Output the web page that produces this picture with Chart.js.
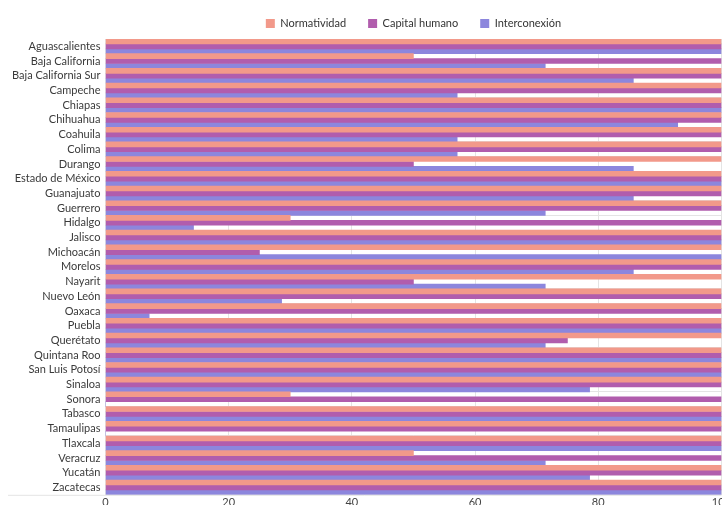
<!DOCTYPE html>
<html>
<head>
<meta charset="utf-8">
<script src="https://cdn.jsdelivr.net/npm/chart.js@4"></script>
<style>
    html, body { margin: 0; padding: 0; overflow: hidden; background: #fff; }
    #wrap { width: 732px; height: 510px; position: relative; }
</style>
</head>
<body>
<div id="wrap"><canvas id="indicadores-chart"></canvas></div>
<script>
// Estados
const estados = [
    'Aguascalientes', 'Baja California', 'Baja California Sur', 'Campeche', 'Chiapas',
    'Chihuahua', 'Coahuila', 'Colima', 'Durango', 'Estado de México', 'Guanajuato',
    'Guerrero', 'Hidalgo', 'Jalisco', 'Michoacán', 'Morelos', 'Nayarit', 'Nuevo León',
    'Oaxaca', 'Puebla', 'Querétato', 'Quintana Roo', 'San Luis Potosí', 'Sinaloa',
    'Sonora', 'Tabasco', 'Tamaulipas', 'Tlaxcala', 'Veracruz', 'Yucatán', 'Zacatecas'
];

const normatividad = [
    100, 50, 100, 100, 100, 100, 100, 100, 100, 100, 100,
    100, 30, 100, 100, 100, 100, 100, 100, 100, 100, 100,
    100, 100, 30, 100, 100, 100, 50, 100, 100
];

const capitalHumano = [
    100, 100, 100, 100, 100, 100, 100, 100, 50, 100, 100,
    100, 100, 100, 25, 100, 50, 100, 100, 100, 75, 100,
    100, 100, 100, 100, 100, 100, 100, 100, 100
];

const interconexion = [
    100, 71.4, 85.7, 57.1, 100, 92.9, 57.1, 57.1, 85.7, 100, 85.7,
    71.4, 14.3, 100, 100, 85.7, 71.4, 28.6, 7.1, 100, 71.4, 100,
    100, 78.6, 0, 100, 0, 100, 71.4, 78.6, 100
];

const xTicks = [0, 20, 40, 60, 80, 100];

const FONT = 'Lato, "Open Sans", sans-serif';
const GRID = '#e4e4e4';

// bottom rule that runs under the state labels too
const baseLine = {
    id: 'baseLine',
    afterDraw(chart) {
        const { ctx, chartArea } = chart;
        ctx.save();
        ctx.strokeStyle = GRID;
        ctx.lineWidth = 1;
        ctx.beginPath();
        ctx.moveTo(8, chartArea.bottom + 0.5);
        ctx.lineTo(chartArea.right, chartArea.bottom + 0.5);
        ctx.stroke();
        ctx.restore();
    }
};

const ctx = document.getElementById('indicadores-chart').getContext('2d');
new Chart(ctx, {
    type: 'bar',
    data: {
        labels: estados,
        datasets: [
            { label: 'Normatividad', data: normatividad, backgroundColor: '#F2998A' },
            { label: 'Capital humano', data: capitalHumano, backgroundColor: '#B15DAD' },
            { label: 'Interconexión', data: interconexion, backgroundColor: '#8C86DD' }
        ]
    },
    options: {
        indexAxis: 'y',
        responsive: true,
        maintainAspectRatio: false,
        animation: false,
        datasets: {
            bar: { barPercentage: 1, categoryPercentage: 1, borderWidth: 0 }
        },
        layout: { padding: { left: 7, top: -4, right: 0, bottom: 0 } },
        plugins: {
            legend: {
                position: 'top',
                fullSize: false,
                labels: {
                    boxWidth: 9,
                    boxHeight: 9,
                    padding: 22,
                    color: '#333',
                    font: { family: FONT, size: 11 }
                }
            },
            tooltip: { enabled: false }
        },
        scales: {
            x: {
                min: 0,
                max: 100,
                afterBuildTicks: (scale) => {
                    scale.ticks = xTicks.map(v => ({ value: v }));
                },
                grid: { color: GRID, drawTicks: false },
                border: { display: false },
                ticks: {
                    padding: 1,
                    color: '#444',
                    font: { family: FONT, size: 11 }
                }
            },
            y: {
                grid: { color: GRID, drawTicks: false },
                border: { display: false },
                ticks: {
                    padding: 5,
                    autoSkip: false,
                    color: '#3a3a3a',
                    font: { family: FONT, size: 11 }
                }
            }
        },
    },
    plugins: [baseLine]
});
</script>
</body>
</html>
